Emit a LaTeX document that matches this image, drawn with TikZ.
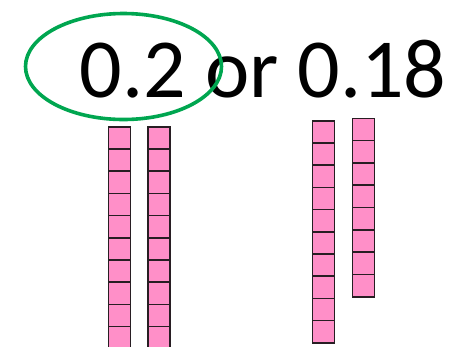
\documentclass[tikz,border=0pt]{standalone}
\usepackage{fontspec}
\setmainfont{Carlito}
\usetikzlibrary{shapes.geometric}
\definecolor{cellpink}{RGB}{255,143,200}
\definecolor{ringgreen}{RGB}{0,166,80}
\definecolor{celledge}{RGB}{40,30,35}
\begin{document}
\begin{tikzpicture}[x=1pt,y=-1pt,
  cell/.style={fill=cellpink,draw=celledge,line width=1.6pt,minimum width=22pt,inner sep=0pt,anchor=north west},
  ring/.style={draw=ringgreen,line width=3.6pt},
  numtext/.style={inner sep=0pt,font=\fontsize{84}{90}\selectfont,anchor=base west}]
\useasboundingbox (0,0) rectangle (454,346);
\clip (0,0) rectangle (454,346);
\node[numtext] (t) at (79.5,97) {0.2 or 0.18};
% left pair (0.2)
\foreach \i in {0,...,9} {
  \node[cell,minimum height=22.2pt] (a\i) at (107.5,126+22.2*\i) {};
  \node[cell,minimum height=22.2pt] (b\i) at (147,126+22.2*\i) {};
}
% right pair (0.18)
\foreach \i in {0,...,9} {
  \node[cell,minimum height=22.2pt] (c\i) at (311.5,120+22.2*\i) {};
}
\foreach \i in {0,...,7} {
  \node[cell,minimum height=22.3pt] (d\i) at (351.5,117.5+22.3*\i) {};
}
\node[ring,ellipse,minimum width=196pt,minimum height=106pt] (ring) at (123.5,66.5) {};
\end{tikzpicture}
\end{document}
